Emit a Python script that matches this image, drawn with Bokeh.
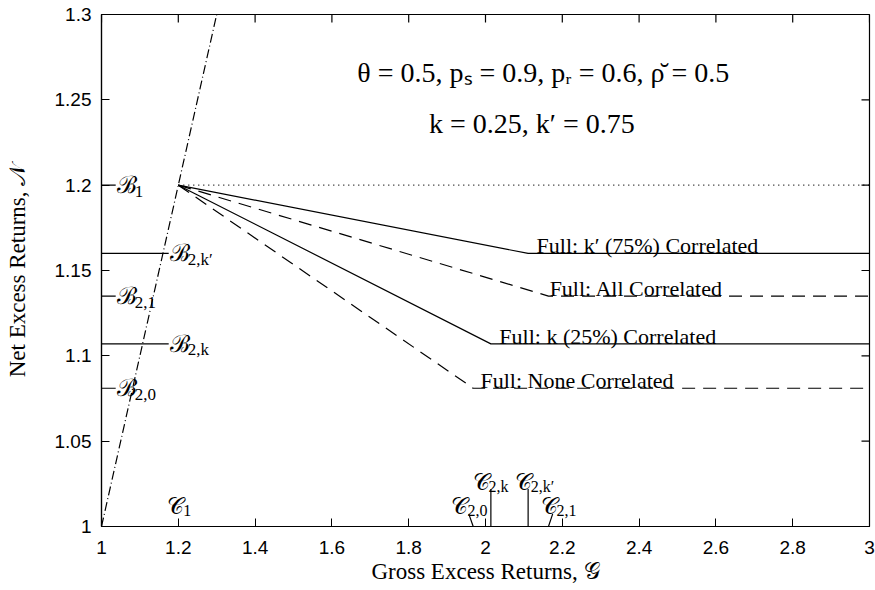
import math
from bokeh.plotting import figure
from bokeh.models import FixedTicker, Range1d
from bokeh.embed import file_html
from bokeh.resources import INLINE
from bokeh.core.properties import value

# ---------------- data ----------------
x_ticks = [1.0, 1.2, 1.4, 1.6, 1.8, 2.0, 2.2, 2.4, 2.6, 2.8, 3.0]
y_ticks = [1.0, 1.05, 1.1, 1.15, 1.2, 1.25, 1.3]

start_g = 1.2          # C1
start_n = 1.2          # B1
diag_g = [1.0, 1.305]  # N = G line
diag_n = [1.0, 1.305]
g_max = 3.0

series_labels = ["Full: k′ (75%) Correlated", "Full: All Correlated",
                 "Full: k (25%) Correlated", "Full: None Correlated"]
kink_g = [2.111, 2.164, 2.014, 1.968]     # C_{2,k'}, C_{2,1}, C_{2,k}, C_{2,0}
flat_n = [1.160, 1.135, 1.107, 1.081]     # B_{2,k'}, B_{2,1}, B_{2,k}, B_{2,0}
series_dash = ["solid", "13 8", "solid", "13 8"]

params_line1 = "θ = 0.5,  pₛ = 0.9,  pᵣ = 0.6,  ρ̆ = 0.5"
params_line2 = "k = 0.25,  k′ = 0.75"

SERIF = "Liberation Serif"
SANS = "Liberation Sans"

p = figure(width=875, height=590, x_range=Range1d(1, 3), y_range=Range1d(1, 1.3),
           output_backend="svg", toolbar_location=None,
           min_border_left=101, min_border_right=6, min_border_top=14, min_border_bottom=64)
p.grid.visible = False
p.outline_line_color = "black"
p.outline_line_width = 1.2
p.background_fill_color = "white"
p.border_fill_color = "white"

for ax in (p.xaxis[0], p.yaxis[0]):
    ax.major_tick_in = 8
    ax.major_tick_out = 0
    ax.minor_tick_line_color = None
    ax.major_label_text_font = SANS
    ax.major_label_text_font_size = "19px"
    ax.major_label_text_color = "black"
    ax.axis_line_color = "black"
    ax.axis_line_width = 1.2
    ax.axis_label_text_font = SERIF
    ax.axis_label_text_font_style = "normal"
    ax.axis_label_text_font_size = "23px"
    ax.axis_label_text_color = "black"
p.xaxis.ticker = FixedTicker(ticks=x_ticks)
p.yaxis.ticker = FixedTicker(ticks=y_ticks)
p.xaxis.major_label_overrides = {t: f"{t:g}" for t in x_ticks}
p.yaxis.major_label_overrides = {t: f"{t:g}" for t in y_ticks}
p.xaxis.major_label_standoff = 14
p.yaxis.major_label_standoff = 10
p.xaxis.axis_label = "Gross Excess Returns, 𝒢"
p.yaxis.axis_label = "Net Excess Returns, 𝒩"
p.xaxis.axis_label_standoff = 2
p.yaxis.axis_label_standoff = 22

LW = 1.2
# mirror ticks on top and right edges (inward)
p.ray(x=x_ticks, y=[1.3] * len(x_ticks), length=8, length_units="screen",
      angle=-math.pi / 2, line_color="black", line_width=LW)
p.ray(x=[3.0] * len(y_ticks), y=y_ticks, length=8, length_units="screen",
      angle=math.pi, line_color="black", line_width=LW)

# dash-dot diagonal
p.line(diag_g, diag_n, line_color="black", line_width=LW, line_dash="9 3 1 3")
# dotted level
p.line([start_g, g_max], [start_n, start_n], line_color="black", line_width=LW, line_dash="1 4")

# the four paths
for lab, kg, fn, dsh in zip(series_labels, kink_g, flat_n, series_dash):
    p.line([start_g, kg, g_max], [start_n, fn, fn], line_color="black", line_width=LW,
           line_dash=dsh)

# labels sitting on the flat parts (x offset from kink)
lab_dx = [0.022, 0.003, 0.022, 0.019]
p.text(x=[k + d for k, d in zip(kink_g, lab_dx)], y=flat_n, text=series_labels,
       text_font=value(SERIF), text_font_size="22px", text_color="black",
       text_baseline="bottom", text_align="left", y_offset=5)

# parameter text
p.text(x=[2.178], y=[1.266], text=[params_line1], text_font=value(SERIF),
       text_font_size="28px", text_align="center", text_baseline="middle", text_color="black")
p.text(x=[2.13], y=[1.236], text=[params_line2], text_font=value(SERIF),
       text_font_size="28px", text_align="center", text_baseline="middle", text_color="black")

# ---------- B markers on the N axis ----------
b_levels = [start_n, flat_n[0], flat_n[1], flat_n[2], flat_n[3]]
b_subs = ["1", "2,k′", "2,1", "2,k", "2,0"]
b_line_end = [1.037, 1.175, 1.037, 1.175, 1.037]
p.segment(x0=[1.0] * 5, y0=b_levels, x1=b_line_end, y1=b_levels, line_color="black",
          line_width=LW)
p.text(x=b_line_end, y=b_levels, text=["ℬ"] * 5, text_font=value(SERIF),
       text_font_size="24px", text_baseline="middle", text_align="left", x_offset=1,
       text_color="black")
p.text(x=b_line_end, y=b_levels, text=b_subs, text_font=value(SERIF),
       text_font_size="17px", text_baseline="middle", text_align="left", x_offset=19,
       y_offset=6, text_color="black")

# ---------- C markers on the G axis ----------
c_g = [start_g, kink_g[3], kink_g[2], kink_g[0], kink_g[1]]
c_subs = ["1", "2,0", "2,k", "2,k′", "2,1"]
c_top_g = [start_g, 1.9565, kink_g[2], kink_g[0], 2.175]
c_top_n = [1.0, 1.0074, 1.022, 1.022, 1.0074]
p.segment(x0=c_g[1:], y0=[1.0] * 4, x1=c_top_g[1:], y1=c_top_n[1:], line_color="black",
          line_width=LW)
c_lab_g = [1.2, 1.945, 2.0, 2.105, 2.18]
c_lab_n = [1.0115, 1.0115, 1.026, 1.026, 1.0115]
c_lab_dx = [-11, -13, -13, -11, -14]
p.text(x=c_lab_g, y=c_lab_n, text=["𝒞"] * 5, text_font=value(SERIF),
       text_font_size="23px", text_baseline="middle", text_align="left",
       x_offset=c_lab_dx, text_color="black")
p.text(x=c_lab_g, y=c_lab_n, text=c_subs, text_font=value(SERIF),
       text_font_size="16px", text_baseline="middle", text_align="left",
       x_offset=[d + 16 for d in c_lab_dx], y_offset=4, text_color="black")

open("out.html", "w").write(file_html(p, INLINE))
